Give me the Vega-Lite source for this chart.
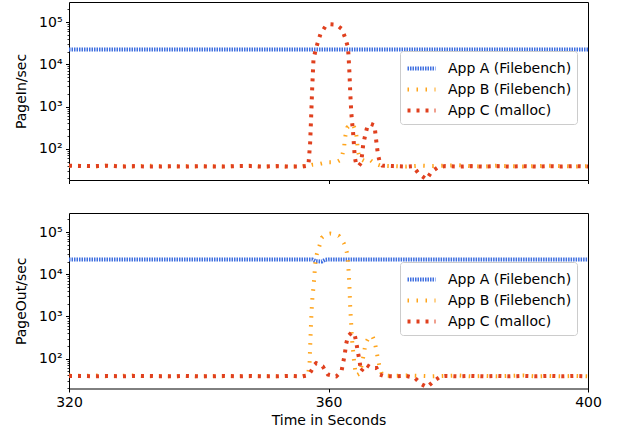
{
"$schema": "https://vega.github.io/schema/vega-lite/v6.json",
"padding": {"left": 14, "top": 1, "right": 5, "bottom": 5},
"config": {
 "font": "DejaVu Sans",
 "view": {"stroke": "black", "strokeWidth": 1},
 "axis": {"domain": false, "grid": false, "labelFontSize": 14, "titleFontSize": 14, "titleFontWeight": "normal", "labelColor": "black", "titleColor": "black", "tickColor": "black", "labelFont": "DejaVu Sans", "titleFont": "DejaVu Sans"},
 "legend": {"labelFontSize": 14, "labelFont": "DejaVu Sans", "labelColor": "black", "strokeColor": "#cccccc", "fillColor": "rgba(255,255,255,0.8)", "cornerRadius": 3, "padding": 5, "symbolType": "M-0.952,0L1.714,0", "symbolSize": 441, "symbolStrokeWidth": 4, "symbolFillColor": "transparent", "labelOffset": 18, "rowPadding": 0, "orient": "none", "legendX": 331, "legendY": 49},
 "concat": {"spacing": 25}
},
"data": {"values": [
{"p":"in","s":"App A (Filebench)","t":320,"v":22500},{"p":"in","s":"App A (Filebench)","t":340,"v":22500},{"p":"in","s":"App A (Filebench)","t":360,"v":22500},{"p":"in","s":"App A (Filebench)","t":380,"v":22500},{"p":"in","s":"App A (Filebench)","t":400,"v":22500},
{"p":"in","s":"App B (Filebench)","t":320,"v":39},{"p":"in","s":"App B (Filebench)","t":322,"v":40},{"p":"in","s":"App B (Filebench)","t":324,"v":38},{"p":"in","s":"App B (Filebench)","t":326,"v":40},{"p":"in","s":"App B (Filebench)","t":328,"v":39},{"p":"in","s":"App B (Filebench)","t":330,"v":38},{"p":"in","s":"App B (Filebench)","t":332,"v":40},{"p":"in","s":"App B (Filebench)","t":334,"v":39},{"p":"in","s":"App B (Filebench)","t":336,"v":38},{"p":"in","s":"App B (Filebench)","t":338,"v":39},{"p":"in","s":"App B (Filebench)","t":340,"v":38},{"p":"in","s":"App B (Filebench)","t":342,"v":39},{"p":"in","s":"App B (Filebench)","t":344,"v":38},{"p":"in","s":"App B (Filebench)","t":346,"v":39},{"p":"in","s":"App B (Filebench)","t":348,"v":40},{"p":"in","s":"App B (Filebench)","t":350,"v":38},{"p":"in","s":"App B (Filebench)","t":352,"v":39},{"p":"in","s":"App B (Filebench)","t":354,"v":38},{"p":"in","s":"App B (Filebench)","t":356,"v":39},
{"p":"in","s":"App B (Filebench)","t":357,"v":40},{"p":"in","s":"App B (Filebench)","t":357.5,"v":42},{"p":"in","s":"App B (Filebench)","t":358.4,"v":43},{"p":"in","s":"App B (Filebench)","t":359.7,"v":48},{"p":"in","s":"App B (Filebench)","t":361.2,"v":48},{"p":"in","s":"App B (Filebench)","t":361.9,"v":55},{"p":"in","s":"App B (Filebench)","t":362.1,"v":67},{"p":"in","s":"App B (Filebench)","t":362.4,"v":111},{"p":"in","s":"App B (Filebench)","t":362.6,"v":200},{"p":"in","s":"App B (Filebench)","t":362.9,"v":320},{"p":"in","s":"App B (Filebench)","t":363.4,"v":380},{"p":"in","s":"App B (Filebench)","t":363.8,"v":370},{"p":"in","s":"App B (Filebench)","t":364.2,"v":264},{"p":"in","s":"App B (Filebench)","t":364.4,"v":161},{"p":"in","s":"App B (Filebench)","t":364.5,"v":96},{"p":"in","s":"App B (Filebench)","t":364.8,"v":59},{"p":"in","s":"App B (Filebench)","t":365.5,"v":52},{"p":"in","s":"App B (Filebench)","t":366.3,"v":56},{"p":"in","s":"App B (Filebench)","t":367.2,"v":44},{"p":"in","s":"App B (Filebench)","t":368,"v":40},
{"p":"in","s":"App B (Filebench)","t":370,"v":39},{"p":"in","s":"App B (Filebench)","t":372,"v":38},{"p":"in","s":"App B (Filebench)","t":374,"v":40},{"p":"in","s":"App B (Filebench)","t":376,"v":39},{"p":"in","s":"App B (Filebench)","t":378,"v":40},{"p":"in","s":"App B (Filebench)","t":380,"v":41},{"p":"in","s":"App B (Filebench)","t":382,"v":39},{"p":"in","s":"App B (Filebench)","t":384,"v":38},{"p":"in","s":"App B (Filebench)","t":386,"v":40},{"p":"in","s":"App B (Filebench)","t":388,"v":39},{"p":"in","s":"App B (Filebench)","t":390,"v":38},{"p":"in","s":"App B (Filebench)","t":392,"v":39},{"p":"in","s":"App B (Filebench)","t":394,"v":40},{"p":"in","s":"App B (Filebench)","t":396,"v":39},{"p":"in","s":"App B (Filebench)","t":398,"v":38},{"p":"in","s":"App B (Filebench)","t":400,"v":39},
{"p":"in","s":"App C (malloc)","t":320,"v":40},{"p":"in","s":"App C (malloc)","t":322,"v":39},{"p":"in","s":"App C (malloc)","t":324,"v":39},{"p":"in","s":"App C (malloc)","t":326,"v":40},{"p":"in","s":"App C (malloc)","t":328,"v":38},{"p":"in","s":"App C (malloc)","t":330,"v":39},{"p":"in","s":"App C (malloc)","t":332,"v":38},{"p":"in","s":"App C (malloc)","t":334,"v":38},{"p":"in","s":"App C (malloc)","t":336,"v":39},{"p":"in","s":"App C (malloc)","t":338,"v":38},{"p":"in","s":"App C (malloc)","t":340,"v":39},{"p":"in","s":"App C (malloc)","t":342,"v":38},{"p":"in","s":"App C (malloc)","t":344,"v":38},{"p":"in","s":"App C (malloc)","t":346,"v":39},{"p":"in","s":"App C (malloc)","t":348,"v":39},{"p":"in","s":"App C (malloc)","t":350,"v":38},{"p":"in","s":"App C (malloc)","t":352,"v":39},{"p":"in","s":"App C (malloc)","t":354,"v":38},{"p":"in","s":"App C (malloc)","t":356,"v":38},
{"p":"in","s":"App C (malloc)","t":356.9,"v":40},{"p":"in","s":"App C (malloc)","t":357.17,"v":139},{"p":"in","s":"App C (malloc)","t":357.33,"v":600},{"p":"in","s":"App C (malloc)","t":357.48,"v":2600},{"p":"in","s":"App C (malloc)","t":357.68,"v":12500},{"p":"in","s":"App C (malloc)","t":357.95,"v":20000},{"p":"in","s":"App C (malloc)","t":358.35,"v":33000},{"p":"in","s":"App C (malloc)","t":358.76,"v":52000},{"p":"in","s":"App C (malloc)","t":359.54,"v":80000},{"p":"in","s":"App C (malloc)","t":360.3,"v":89000},{"p":"in","s":"App C (malloc)","t":360.82,"v":88000},{"p":"in","s":"App C (malloc)","t":361.5,"v":80000},{"p":"in","s":"App C (malloc)","t":362.05,"v":69000},{"p":"in","s":"App C (malloc)","t":362.58,"v":42000},{"p":"in","s":"App C (malloc)","t":362.98,"v":26000},{"p":"in","s":"App C (malloc)","t":363.09,"v":16000},{"p":"in","s":"App C (malloc)","t":363.24,"v":5800},{"p":"in","s":"App C (malloc)","t":363.35,"v":2150},{"p":"in","s":"App C (malloc)","t":363.5,"v":790},{"p":"in","s":"App C (malloc)","t":363.6,"v":480},{"p":"in","s":"App C (malloc)","t":363.75,"v":290},{"p":"in","s":"App C (malloc)","t":363.86,"v":173},{"p":"in","s":"App C (malloc)","t":363.95,"v":105},{"p":"in","s":"App C (malloc)","t":364.05,"v":64},{"p":"in","s":"App C (malloc)","t":364.3,"v":41},{"p":"in","s":"App C (malloc)","t":364.7,"v":40},{"p":"in","s":"App C (malloc)","t":365.0,"v":46},{"p":"in","s":"App C (malloc)","t":365.2,"v":77},{"p":"in","s":"App C (malloc)","t":365.35,"v":127},{"p":"in","s":"App C (malloc)","t":365.65,"v":207},{"p":"in","s":"App C (malloc)","t":366.0,"v":347},{"p":"in","s":"App C (malloc)","t":366.5,"v":390},{"p":"in","s":"App C (malloc)","t":367.1,"v":360},{"p":"in","s":"App C (malloc)","t":367.26,"v":207},{"p":"in","s":"App C (malloc)","t":367.6,"v":77},{"p":"in","s":"App C (malloc)","t":367.9,"v":48},{"p":"in","s":"App C (malloc)","t":368.3,"v":40},{"p":"in","s":"App C (malloc)","t":370,"v":39},{"p":"in","s":"App C (malloc)","t":372,"v":38},{"p":"in","s":"App C (malloc)","t":373,"v":39},{"p":"in","s":"App C (malloc)","t":373.9,"v":26},{"p":"in","s":"App C (malloc)","t":375.1,"v":19},{"p":"in","s":"App C (malloc)","t":375.9,"v":29},{"p":"in","s":"App C (malloc)","t":376.9,"v":37},{"p":"in","s":"App C (malloc)","t":378,"v":39},
{"p":"in","s":"App C (malloc)","t":380,"v":38},{"p":"in","s":"App C (malloc)","t":382,"v":39},{"p":"in","s":"App C (malloc)","t":384,"v":38},{"p":"in","s":"App C (malloc)","t":386,"v":39},{"p":"in","s":"App C (malloc)","t":388,"v":38},{"p":"in","s":"App C (malloc)","t":390,"v":39},{"p":"in","s":"App C (malloc)","t":392,"v":38},{"p":"in","s":"App C (malloc)","t":394,"v":39},{"p":"in","s":"App C (malloc)","t":396,"v":38},{"p":"in","s":"App C (malloc)","t":398,"v":39},{"p":"in","s":"App C (malloc)","t":400,"v":38},

{"p":"out","s":"App A (Filebench)","t":320,"v":22500},{"p":"out","s":"App A (Filebench)","t":340,"v":22500},{"p":"out","s":"App A (Filebench)","t":357.5,"v":22500},{"p":"out","s":"App A (Filebench)","t":358,"v":20500},{"p":"out","s":"App A (Filebench)","t":359,"v":20000},{"p":"out","s":"App A (Filebench)","t":359.5,"v":22000},{"p":"out","s":"App A (Filebench)","t":360,"v":22500},{"p":"out","s":"App A (Filebench)","t":380,"v":22500},{"p":"out","s":"App A (Filebench)","t":400,"v":22500},
{"p":"out","s":"App B (Filebench)","t":320,"v":40},{"p":"out","s":"App B (Filebench)","t":322,"v":39},{"p":"out","s":"App B (Filebench)","t":324,"v":40},{"p":"out","s":"App B (Filebench)","t":326,"v":38},{"p":"out","s":"App B (Filebench)","t":328,"v":39},{"p":"out","s":"App B (Filebench)","t":330,"v":40},{"p":"out","s":"App B (Filebench)","t":332,"v":38},{"p":"out","s":"App B (Filebench)","t":334,"v":39},{"p":"out","s":"App B (Filebench)","t":336,"v":38},{"p":"out","s":"App B (Filebench)","t":338,"v":39},{"p":"out","s":"App B (Filebench)","t":340,"v":38},{"p":"out","s":"App B (Filebench)","t":342,"v":39},{"p":"out","s":"App B (Filebench)","t":344,"v":38},{"p":"out","s":"App B (Filebench)","t":346,"v":39},{"p":"out","s":"App B (Filebench)","t":348,"v":38},{"p":"out","s":"App B (Filebench)","t":350,"v":39},{"p":"out","s":"App B (Filebench)","t":352,"v":38},{"p":"out","s":"App B (Filebench)","t":354,"v":39},{"p":"out","s":"App B (Filebench)","t":356,"v":38},
{"p":"out","s":"App B (Filebench)","t":356.8,"v":40},{"p":"out","s":"App B (Filebench)","t":357.07,"v":68},{"p":"out","s":"App B (Filebench)","t":357.17,"v":186},{"p":"out","s":"App B (Filebench)","t":357.33,"v":850},{"p":"out","s":"App B (Filebench)","t":357.48,"v":2330},{"p":"out","s":"App B (Filebench)","t":357.73,"v":5960},{"p":"out","s":"App B (Filebench)","t":357.95,"v":17300},{"p":"out","s":"App B (Filebench)","t":358.2,"v":30000},{"p":"out","s":"App B (Filebench)","t":358.6,"v":47000},{"p":"out","s":"App B (Filebench)","t":358.97,"v":74000},{"p":"out","s":"App B (Filebench)","t":359.6,"v":88000},{"p":"out","s":"App B (Filebench)","t":360.26,"v":92000},{"p":"out","s":"App B (Filebench)","t":361.0,"v":88000},{"p":"out","s":"App B (Filebench)","t":361.6,"v":81000},{"p":"out","s":"App B (Filebench)","t":362.36,"v":54000},{"p":"out","s":"App B (Filebench)","t":362.8,"v":34600},{"p":"out","s":"App B (Filebench)","t":363.0,"v":20000},{"p":"out","s":"App B (Filebench)","t":363.09,"v":12400},{"p":"out","s":"App B (Filebench)","t":363.24,"v":4640},{"p":"out","s":"App B (Filebench)","t":363.35,"v":1600},{"p":"out","s":"App B (Filebench)","t":363.5,"v":645},{"p":"out","s":"App B (Filebench)","t":363.6,"v":310},{"p":"out","s":"App B (Filebench)","t":363.75,"v":180},{"p":"out","s":"App B (Filebench)","t":363.9,"v":100},{"p":"out","s":"App B (Filebench)","t":364.1,"v":55},{"p":"out","s":"App B (Filebench)","t":364.3,"v":40},{"p":"out","s":"App B (Filebench)","t":364.8,"v":44},{"p":"out","s":"App B (Filebench)","t":365.2,"v":80},{"p":"out","s":"App B (Filebench)","t":365.6,"v":180},{"p":"out","s":"App B (Filebench)","t":365.9,"v":260},{"p":"out","s":"App B (Filebench)","t":366.3,"v":340},{"p":"out","s":"App B (Filebench)","t":366.8,"v":330},{"p":"out","s":"App B (Filebench)","t":367.1,"v":260},{"p":"out","s":"App B (Filebench)","t":367.35,"v":164},{"p":"out","s":"App B (Filebench)","t":367.6,"v":103},{"p":"out","s":"App B (Filebench)","t":367.9,"v":60},{"p":"out","s":"App B (Filebench)","t":368.3,"v":40},
{"p":"out","s":"App B (Filebench)","t":370,"v":39},{"p":"out","s":"App B (Filebench)","t":372,"v":40},{"p":"out","s":"App B (Filebench)","t":374,"v":39},{"p":"out","s":"App B (Filebench)","t":376,"v":38},{"p":"out","s":"App B (Filebench)","t":378,"v":39},{"p":"out","s":"App B (Filebench)","t":380,"v":40},{"p":"out","s":"App B (Filebench)","t":382,"v":38},{"p":"out","s":"App B (Filebench)","t":384,"v":39},{"p":"out","s":"App B (Filebench)","t":386,"v":38},{"p":"out","s":"App B (Filebench)","t":388,"v":39},{"p":"out","s":"App B (Filebench)","t":390,"v":40},{"p":"out","s":"App B (Filebench)","t":392,"v":38},{"p":"out","s":"App B (Filebench)","t":394,"v":39},{"p":"out","s":"App B (Filebench)","t":396,"v":38},{"p":"out","s":"App B (Filebench)","t":398,"v":39},{"p":"out","s":"App B (Filebench)","t":400,"v":38},
{"p":"out","s":"App C (malloc)","t":320,"v":39},{"p":"out","s":"App C (malloc)","t":322,"v":39},{"p":"out","s":"App C (malloc)","t":324,"v":38},{"p":"out","s":"App C (malloc)","t":326,"v":39},{"p":"out","s":"App C (malloc)","t":328,"v":38},{"p":"out","s":"App C (malloc)","t":330,"v":39},{"p":"out","s":"App C (malloc)","t":332,"v":39},{"p":"out","s":"App C (malloc)","t":334,"v":38},{"p":"out","s":"App C (malloc)","t":336,"v":38},{"p":"out","s":"App C (malloc)","t":338,"v":39},{"p":"out","s":"App C (malloc)","t":340,"v":38},{"p":"out","s":"App C (malloc)","t":342,"v":38},{"p":"out","s":"App C (malloc)","t":344,"v":39},{"p":"out","s":"App C (malloc)","t":346,"v":38},{"p":"out","s":"App C (malloc)","t":348,"v":39},{"p":"out","s":"App C (malloc)","t":350,"v":38},{"p":"out","s":"App C (malloc)","t":352,"v":38},{"p":"out","s":"App C (malloc)","t":354,"v":39},{"p":"out","s":"App C (malloc)","t":356,"v":38},
{"p":"out","s":"App C (malloc)","t":356.8,"v":40},{"p":"out","s":"App C (malloc)","t":357.3,"v":50},{"p":"out","s":"App C (malloc)","t":357.85,"v":72},{"p":"out","s":"App C (malloc)","t":358.1,"v":78},{"p":"out","s":"App C (malloc)","t":359.1,"v":66},{"p":"out","s":"App C (malloc)","t":359.9,"v":42},{"p":"out","s":"App C (malloc)","t":361.2,"v":38},{"p":"out","s":"App C (malloc)","t":362.0,"v":50},{"p":"out","s":"App C (malloc)","t":362.5,"v":125},{"p":"out","s":"App C (malloc)","t":362.7,"v":215},{"p":"out","s":"App C (malloc)","t":363.0,"v":340},{"p":"out","s":"App C (malloc)","t":363.5,"v":406},{"p":"out","s":"App C (malloc)","t":364.0,"v":390},{"p":"out","s":"App C (malloc)","t":364.3,"v":235},{"p":"out","s":"App C (malloc)","t":364.5,"v":150},{"p":"out","s":"App C (malloc)","t":364.8,"v":86},{"p":"out","s":"App C (malloc)","t":365.0,"v":50},{"p":"out","s":"App C (malloc)","t":365.8,"v":72},{"p":"out","s":"App C (malloc)","t":366.6,"v":60},{"p":"out","s":"App C (malloc)","t":367.4,"v":60},{"p":"out","s":"App C (malloc)","t":367.9,"v":42},{"p":"out","s":"App C (malloc)","t":368.5,"v":39},{"p":"out","s":"App C (malloc)","t":370,"v":38},{"p":"out","s":"App C (malloc)","t":372,"v":39},{"p":"out","s":"App C (malloc)","t":373.3,"v":35},{"p":"out","s":"App C (malloc)","t":374.3,"v":25},{"p":"out","s":"App C (malloc)","t":375.2,"v":21},{"p":"out","s":"App C (malloc)","t":376.3,"v":30},{"p":"out","s":"App C (malloc)","t":377.3,"v":38},{"p":"out","s":"App C (malloc)","t":378,"v":39},
{"p":"out","s":"App C (malloc)","t":380,"v":38},{"p":"out","s":"App C (malloc)","t":382,"v":39},{"p":"out","s":"App C (malloc)","t":384,"v":38},{"p":"out","s":"App C (malloc)","t":386,"v":39},{"p":"out","s":"App C (malloc)","t":388,"v":38},{"p":"out","s":"App C (malloc)","t":390,"v":39},{"p":"out","s":"App C (malloc)","t":392,"v":38},{"p":"out","s":"App C (malloc)","t":394,"v":39},{"p":"out","s":"App C (malloc)","t":396,"v":38},{"p":"out","s":"App C (malloc)","t":398,"v":39},{"p":"out","s":"App C (malloc)","t":400,"v":38}
]},
"vconcat": [
{
 "width": 519, "height": 178,
 "transform": [{"filter": "datum.p == 'in'"}],
 "mark": {"type": "line", "strokeWidth": 4, "clip": true},
 "encoding": {
  "x": {"field": "t", "type": "quantitative", "scale": {"domain": [320, 400], "nice": false}, "axis": {"values": [320, 360, 400], "labels": false, "title": null, "tickSize": 3.5, "tickWidth": 1}},
  "y": {"field": "v", "type": "quantitative", "scale": {"type": "log", "domain": [18.3, 299000], "nice": false}, "title": "PageIn/sec",
   "axis": {"values": [20,30,40,50,60,70,80,90,100,200,300,400,500,600,700,800,900,1000,2000,3000,4000,5000,6000,7000,8000,9000,10000,20000,30000,40000,50000,60000,70000,80000,90000,100000,200000],
    "labelExpr": "datum.value == 100 ? '10²' : datum.value == 1000 ? '10³' : datum.value == 10000 ? '10⁴' : datum.value == 100000 ? '10⁵' : ''",
    "tickSize": {"condition": {"test": "indexof([100,1000,10000,100000], datum.value) >= 0", "value": 3.5}, "value": 2},
    "tickWidth": {"condition": {"test": "indexof([100,1000,10000,100000], datum.value) >= 0", "value": 1}, "value": 0.8},
    "labelPadding": 3.5, "titlePadding": 10, "labelFlush": false, "labelOverlap": false}},
  "color": {"field": "s", "type": "nominal", "scale": {"domain": ["App A (Filebench)", "App B (Filebench)", "App C (malloc)"], "range": ["#3f6fe0", "#ffa41b", "#e0401e"]}, "legend": {"title": null}},
  "strokeDash": {"field": "s", "type": "nominal", "scale": {"domain": ["App A (Filebench)", "App B (Filebench)", "App C (malloc)"], "range": [[1.5, 1], [1.5, 7.5], [3, 6]]}, "legend": {"title": null}}
 }
},
{
 "width": 519, "height": 175.5,
 "transform": [{"filter": "datum.p == 'out'"}],
 "mark": {"type": "line", "strokeWidth": 4, "clip": true},
 "encoding": {
  "x": {"field": "t", "type": "quantitative", "scale": {"domain": [320, 400], "nice": false}, "title": "Time in Seconds", "axis": {"values": [320, 360, 400], "format": "d", "tickSize": 3.5, "tickWidth": 1, "labelPadding": 3.5, "titlePadding": 4, "labelFlush": false}},
  "y": {"field": "v", "type": "quantitative", "scale": {"type": "log", "domain": [19.6, 283000], "nice": false}, "title": "PageOut/sec",
   "axis": {"values": [20,30,40,50,60,70,80,90,100,200,300,400,500,600,700,800,900,1000,2000,3000,4000,5000,6000,7000,8000,9000,10000,20000,30000,40000,50000,60000,70000,80000,90000,100000,200000],
    "labelExpr": "datum.value == 100 ? '10²' : datum.value == 1000 ? '10³' : datum.value == 10000 ? '10⁴' : datum.value == 100000 ? '10⁵' : ''",
    "tickSize": {"condition": {"test": "indexof([100,1000,10000,100000], datum.value) >= 0", "value": 3.5}, "value": 2},
    "tickWidth": {"condition": {"test": "indexof([100,1000,10000,100000], datum.value) >= 0", "value": 1}, "value": 0.8},
    "labelPadding": 3.5, "titlePadding": 10, "labelFlush": false, "labelOverlap": false}},
  "color": {"field": "s", "type": "nominal", "scale": {"domain": ["App A (Filebench)", "App B (Filebench)", "App C (malloc)"], "range": ["#3f6fe0", "#ffa41b", "#e0401e"]}, "legend": {"title": null}},
  "strokeDash": {"field": "s", "type": "nominal", "scale": {"domain": ["App A (Filebench)", "App B (Filebench)", "App C (malloc)"], "range": [[1.5, 1], [1.5, 7.5], [3, 6]]}, "legend": {"title": null}}
 }
}
],
"resolve": {"scale": {"color": "independent", "strokeDash": "independent"}, "legend": {"color": "independent", "strokeDash": "independent"}}
}
